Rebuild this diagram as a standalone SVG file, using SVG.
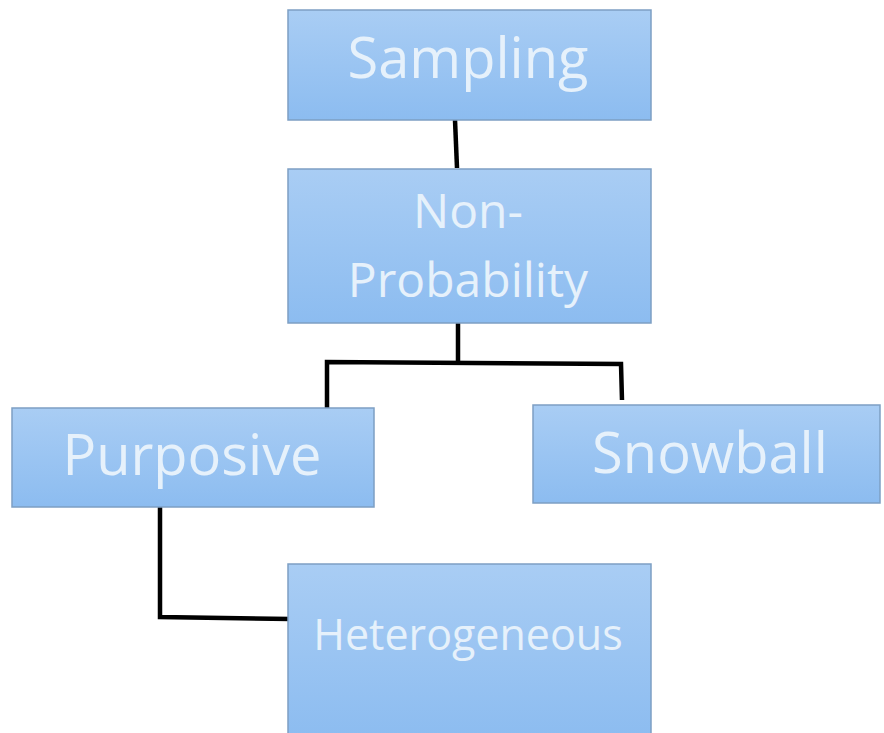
<svg xmlns="http://www.w3.org/2000/svg" width="884" height="733" viewBox="0 0 884 733">
<defs>
<linearGradient id="g" x1="0" y1="0" x2="0" y2="1">
<stop offset="0" stop-color="#a9cdf4"/>
<stop offset="1" stop-color="#8cbcf0"/>
</linearGradient>
<style>
.box{fill:url(#g);stroke:#7d9fc3;stroke-width:1.5}
.t{font-family:"Open Sans","Noto Sans",sans-serif;fill:#e6f1fb;text-anchor:middle}
.c{stroke:#000;stroke-width:4.5;fill:none;stroke-linejoin:miter}
</style>
</defs>
<rect width="884" height="733" fill="#fff"/>
<g id="connectors">
<path class="c" d="M455,120 L457,168"/>
<path class="c" d="M458,323 L458,363"/>
<path class="c" d="M327,408 L327,362 L621,364 L622,400"/>
<path class="c" d="M160,507 L160,617 L291,619"/>
</g>
<g id="sampling">
<rect class="box" x="288" y="10" width="363" height="110"/>
<text class="t" x="468" y="78" font-size="56">Sampling</text>
</g>
<g id="nonprobability">
<rect class="box" x="288" y="169" width="363" height="154"/>
<text class="t" x="468" y="228" font-size="48">Non-</text>
<text class="t" x="468" y="297" font-size="48">Probability</text>
</g>
<g id="purposive">
<rect class="box" x="12" y="408" width="362" height="99"/>
<text class="t" x="192" y="475" font-size="56">Purposive</text>
</g>
<g id="snowball">
<rect class="box" x="533" y="405" width="347" height="98"/>
<text class="t" x="710" y="473" font-size="56">Snowball</text>
</g>
<g id="heterogeneous">
<rect class="box" x="288" y="564" width="363" height="175"/>
<text class="t" x="468" y="650" font-size="43">Heterogeneous</text>
</g>
</svg>
